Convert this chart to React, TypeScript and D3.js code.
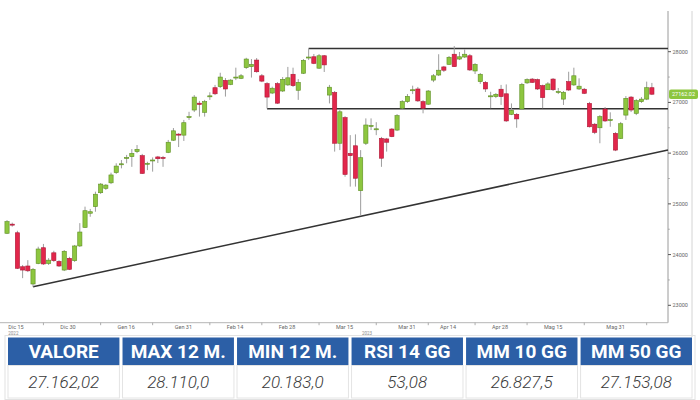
import React from "react";
import * as d3 from "d3";

// ---- DATA ----
const startDate = "2022-12-15";
const holidays = ["2022-12-26", "2023-04-07", "2023-04-10", "2023-05-01"];

const opens = [24420,24600,24430,23760,23775,23420,23825,24135,23825,24035,23865,23695,23925,23880,24170,24535,24815,24945,25220,25305,25415,25615,25775,25900,25930,26030,25950,25790,25860,25925,25915,26015,26255,26375,26355,26710,26850,26985,26805,27120,27290,27310,27435,27355,27490,27475,27685,27705,27835,27525,27370,27185,27370,27225,27345,27555,27240,27575,27880,27900,27675,27920,27145,27195,26195,26700,25995,26145,25260,26195,26535,26470,26290,26280,26475,26455,26885,27015,27240,27265,27015,26965,27440,27540,27700,27750,27950,27855,27895,27920,27620,27410,27395,27120,27115,27260,27170,26765,26765,26870,27385,27460,27450,27330,27250,27460,27205,27065,27410,27345,27265,27260,26980,26570,26500,26870,26645,26390,26290,26750,27105,26785,27015,27065,27290];
const highs = [24680,24630,24470,23795,23890,23735,24155,24210,23930,24075,23890,24090,23955,24190,24620,24945,24900,25240,25410,25390,25615,25800,25865,25965,26080,26160,25985,25830,25915,25945,25945,26260,26495,26395,26655,26815,27145,27030,27050,27200,27345,27585,27480,27460,27685,27560,27880,27855,27875,27560,27400,27310,27400,27500,27700,27685,27460,27855,28065,27955,27955,27935,27345,27225,26850,26730,26355,26370,26060,26685,26685,26610,26320,26300,26495,26770,27045,27165,27330,27305,27045,27245,27560,27950,27720,27915,28110,27995,28045,27955,27775,27580,27420,27210,27185,27345,27355,26980,26790,27385,27475,27480,27470,27350,27400,27480,27285,27225,27605,27685,27475,27285,27010,26595,26750,26910,26805,26415,26615,27125,27125,27065,27105,27410,27385];
const lows = [24405,24550,23715,23535,23655,23365,23810,23795,23795,23855,23755,23675,23695,23855,24150,24525,24745,24845,25195,25275,25390,25590,25700,25800,25730,26000,25590,25665,25635,25805,25730,26000,26240,26120,26240,26655,26810,26720,26720,27050,27145,27285,27115,27340,27440,27460,27660,27490,27585,27400,26880,27165,26970,27205,27325,27305,27050,27560,27835,27755,27660,27600,26980,26030,26060,25535,25340,25340,24780,26160,26455,26355,25730,26030,26315,26435,26850,26990,27165,27010,26785,26950,27400,27520,27600,27740,27700,27835,27875,27620,27560,27365,27205,26885,27085,26950,26615,26750,26500,26850,27365,27385,27245,26885,27245,27225,27165,26950,27225,27325,27245,27165,26505,26375,26195,26615,26520,26040,26280,26655,26810,26750,26990,27045,27145];
const closes = [24650,24595,23730,23695,23680,23710,24110,23815,23890,23880,23775,24065,23710,24170,24445,24865,24845,25190,25390,25370,25570,25745,25790,25915,25995,26075,25600,25800,25865,25890,25900,26215,26440,26355,26600,26720,27105,26960,27015,27130,27170,27500,27265,27440,27500,27525,27855,27750,27605,27420,27105,27280,26985,27455,27485,27330,27395,27830,27895,27770,27920,27740,27300,26195,26815,25580,25950,25505,25910,26555,26545,26480,25900,26215,26325,26740,27015,27120,27250,27030,26885,27225,27525,27635,27635,27890,27705,27900,27950,27640,27750,27555,27265,27130,27160,27115,26635,26845,26675,27355,27450,27395,27265,27095,27365,27250,27215,27200,27245,27525,27320,27180,26520,26410,26720,26635,26660,26060,26580,27080,26850,27035,27065,27290,27162.02];

const yTicks = [23000, 24000, 25000, 26000, 27000, 28000];
const yMinorTicks = [23500, 24500, 25500, 26500, 27500];
const xLabels = [
  { date: "2022-12-15", label: "Dic 15" },
  { date: "2022-12-30", label: "Dic 30" },
  { date: "2023-01-16", label: "Gen 16" },
  { date: "2023-01-31", label: "Gen 31" },
  { date: "2023-02-14", label: "Feb 14" },
  { date: "2023-02-28", label: "Feb 28" },
  { date: "2023-03-15", label: "Mar 15" },
  { date: "2023-03-31", label: "Mar 31" },
  { date: "2023-04-14", label: "Apr 14" },
  { date: "2023-04-28", label: "Apr 28" },
  { date: "2023-05-15", label: "Mag 15" },
  { date: "2023-05-31", label: "Mag 31" },
];
const yearLabels = [
  { date: "2022-12-15", label: "2022" },
  { date: "2023-03-22", label: "2023" },
];
const xTickDates = ["2022-12-27","2023-01-11","2023-01-25","2023-02-09","2023-02-23","2023-03-10","2023-03-27","2023-04-12","2023-04-25","2023-05-10","2023-05-25","2023-06-12"];

const resistance = { from: "2023-03-08", value: 28065 };
const support = { from: "2023-02-24", value: 26875 };
const trendStart = { date: "2022-12-22", value: 23365 };
const trendEndValue = 26060;

const lastPrice = "27162.02";

const headers = ["VALORE", "MAX 12 M.", "MIN 12 M.", "RSI 14 GG", "MM 10 GG", "MM 50 GG"];
const values = ["27.162,02", "28.110,0", "20.183,0", "53,08", "26.827,5", "27.153,08"];

// ---- helpers ----
function tradingDays(start: string, n: number): string[] {
  const out: string[] = [];
  const d = new Date(start + "T12:00:00Z");
  while (out.length < n) {
    const s = d.toISOString().slice(0, 10);
    const wd = d.getUTCDay();
    if (wd !== 0 && wd !== 6 && !holidays.includes(s)) out.push(s);
    d.setUTCDate(d.getUTCDate() + 1);
  }
  return out;
}

export default function App() {
  const W = 700, H = 400;
  const plotRight = 668;
  const axisY = 322.7;
  const dates = tradingDays(startDate, closes.length);
  const idx = (s: string) => dates.indexOf(s);

  const x = d3.scaleLinear().domain([-1.35, 127.1]).range([0, plotRight]);
  const y = d3.scaleLinear().domain([23000, 28000]).range([305.3, 51.7]);
  const xEnd = x.domain()[1];
  const bw = 4.2;

  const green = "#8dc63f", greenStroke = "#5e8f24";
  const red = "#e2264b", redStroke = "#ad1836";

  const trendLine = d3.line<[number, number]>().x(d => x(d[0])).y(d => y(d[1]));

  const band = d3.scaleBand<string>().domain(headers).range([8, 692]).paddingInner(0.027);

  return (
    <svg width={W} height={H} style={{ position: "absolute", left: 0, top: 0, background: "#fff" }}
      fontFamily="Roboto, 'Noto Sans', sans-serif">
      <rect x={0} y={0} width={W} height={H} fill="#fff" />
      {/* frame lines */}
      <line x1={plotRight} x2={plotRight} y1={11} y2={axisY} stroke="#9a9a9a" strokeWidth={1} />
      <line x1={692} x2={692} y1={11} y2={337} stroke="#d4d4d4" strokeWidth={1} />
      <line x1={0} x2={plotRight} y1={axisY} y2={axisY} stroke="#b5b5b5" strokeWidth={1} />

      {/* y axis */}
      {yTicks.map(t => (
        <g key={t}>
          <line x1={plotRight} x2={plotRight + 3} y1={y(t)} y2={y(t)} stroke="#555" strokeWidth={1} />
          <text x={plotRight + 4.5} y={y(t)} dy="0.35em" fontSize={5.5} fill="#666">{t}</text>
        </g>
      ))}
      {yMinorTicks.map(t => (
        <line key={t} x1={plotRight} x2={plotRight + 1.8} y1={y(t)} y2={y(t)} stroke="#999" strokeWidth={0.8} />
      ))}

      {/* x axis */}
      {xTickDates.map(s => (
        <line key={s} x1={x(idx(s))} x2={x(idx(s))} y1={axisY} y2={axisY + 2.5} stroke="#999" strokeWidth={0.8} />
      ))}
      {xLabels.map(l => (
        <text key={l.label} x={x(idx(l.date)) + 1.3} y={axisY + 6.5} fontSize={5.5} fill="#666">{l.label}</text>
      ))}
      {yearLabels.map(l => (
        <text key={l.label} x={x(idx(l.date)) + 1.3} y={axisY + 12.5} fontSize={4.5} fill="#888">{l.label}</text>
      ))}

      {/* trend / levels */}
      <path d={trendLine([[idx(trendStart.date), trendStart.value], [xEnd, trendEndValue]]) || ""}
        stroke="#333" strokeWidth={1.5} fill="none" />
      <line x1={x(idx(resistance.from))} x2={plotRight} y1={y(resistance.value)} y2={y(resistance.value)} stroke="#333" strokeWidth={1.5} />
      <line x1={x(idx(support.from))} x2={plotRight} y1={y(support.value)} y2={y(support.value)} stroke="#333" strokeWidth={1.5} />

      {/* candles */}
      {closes.map((c, i) => {
        const o = opens[i];
        const up = c >= o;
        const cx = x(i);
        const top = y(Math.max(o, c));
        const bot = y(Math.min(o, c));
        return (
          <g key={i}>
            <line x1={cx} x2={cx} y1={y(highs[i])} y2={y(lows[i])} stroke="#9d9d9d" strokeWidth={1} />
            <rect x={cx - bw / 2} y={top} width={bw} height={Math.max(1, bot - top)}
              fill={up ? green : red} stroke={up ? greenStroke : redStroke} strokeWidth={0.6} />
          </g>
        );
      })}

      {/* last price label */}
      <rect x={plotRight + 1} y={y(closes[closes.length - 1]) - 4.8} width={29} height={9.6} rx={2} fill={green} />
      <text x={plotRight + 15.5} y={y(closes[closes.length - 1])} dy="0.35em" textAnchor="middle" fontSize={5.5} fill="#fff">{lastPrice}</text>

      {/* table */}
      <rect x={5} y={335.5} width={690} height={64} fill="none" stroke="#e2e2e2" strokeWidth={1} />
      {headers.map((h, i) => {
        const bx = band(h) as number;
        const w = band.bandwidth();
        return (
          <g key={h}>
            <rect x={bx} y={337.5} width={w} height={28} fill="#2c5fa6" />
            <text x={bx + w / 2} y={351.5} dy="0.36em" textAnchor="middle" fontSize={19} fontWeight={700} fill="#fff">{h}</text>
            <rect x={bx} y={365.5} width={w} height={32.5} fill="#fff" stroke="#e4e4e4" strokeWidth={1} />
            <text x={bx + w / 2} y={382} dy="0.36em" textAnchor="middle" fontSize={17} fontStyle="italic" fontWeight={300} fill="#3a3a3a">{values[i]}</text>
          </g>
        );
      })}
    </svg>
  );
}
